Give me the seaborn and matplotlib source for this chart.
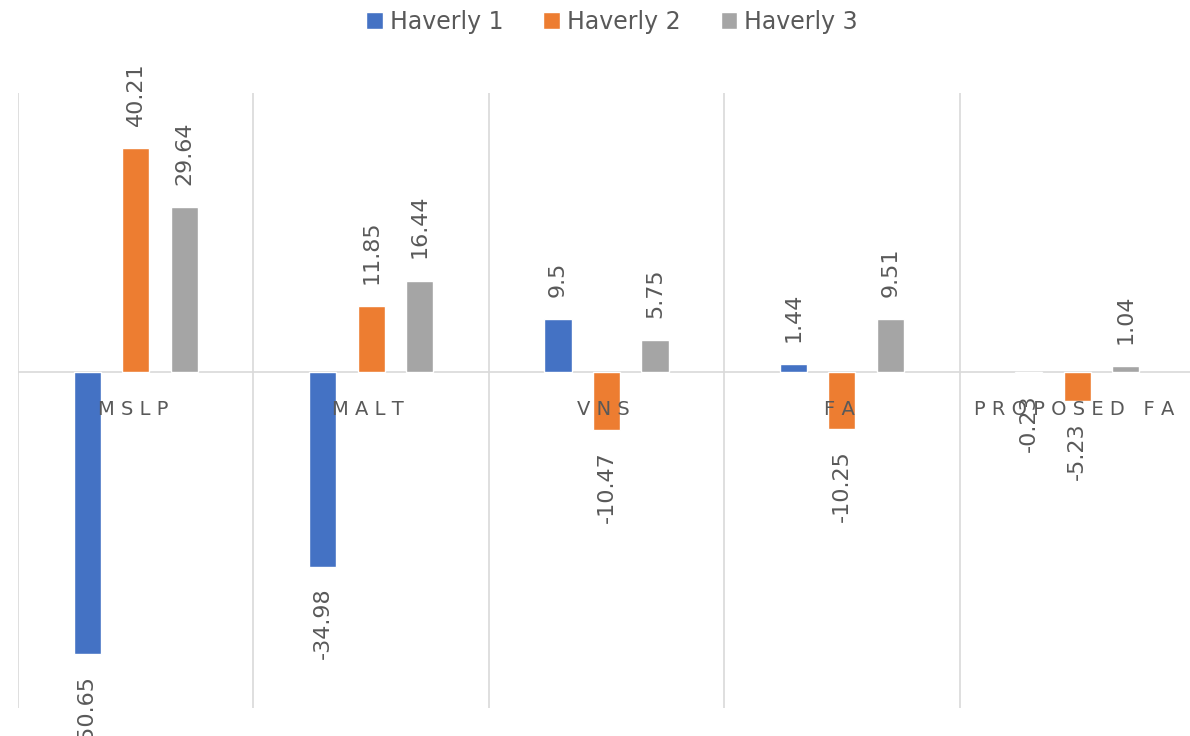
import matplotlib
matplotlib.use("Agg")
import matplotlib.pyplot as plt
import seaborn as sns
import pandas as pd

categories = ["MSLP", "MALT", "VNS", "FA", "PROPOSED FA"]
series_names = ["Haverly 1", "Haverly 2", "Haverly 3"]
haverly1 = [-50.65, -34.98, 9.5, 1.44, -0.23]
haverly2 = [40.21, 11.85, -10.47, -10.25, -5.23]
haverly3 = [29.64, 16.44, 5.75, 9.51, 1.04]
colors = ["#4472C4", "#ED7D31", "#A5A5A5"]

rows = []
for name, vals in zip(series_names, [haverly1, haverly2, haverly3]):
    for c, v in zip(categories, vals):
        rows.append({"cat": c, "series": name, "value": v})
df = pd.DataFrame(rows)

sns.set_theme(style="white")
plt.rcParams["font.family"] = ["DejaVu Sans"]

W, H = 1190, 736
fig = plt.figure(figsize=(W / 100, H / 100), dpi=100)
ax = fig.add_axes([18 / W, (H - 708) / H, 1177 / W, (708 - 93) / H])

sns.barplot(data=df, x="cat", y="value", hue="series", palette=colors,
            order=categories, hue_order=series_names, width=0.618, gap=0.44,
            saturation=1, errorbar=None, ax=ax, zorder=3)

ax.set_ylim(-60.3, 50.1)
ax.set_xlim(-0.5, 4.5)
for s in ax.spines.values():
    s.set_visible(False)
ax.set_xticks([])
ax.set_yticks([])
ax.set_xlabel("")
ax.set_ylabel("")

for xv in [-0.5, 0.5, 1.5, 2.5, 3.5, 4.5]:
    ax.axvline(xv, color="#D9D9D9", lw=1.2, zorder=1)
ax.axhline(0, color="#D9D9D9", lw=1.2, zorder=2)

# data labels
for cont in ax.containers:
    for bar in cont:
        v = bar.get_height()
        xc = bar.get_x() + bar.get_width() / 2
        lab = f"{v:g}"
        if v >= 0:
            ax.annotate(lab, xy=(xc, v), xytext=(0, 16), textcoords="offset points",
                        rotation=90, ha="center", va="bottom", fontsize=16,
                        color="#595959", zorder=5)
        else:
            ax.annotate(lab, xy=(xc, v), xytext=(0, -15), textcoords="offset points",
                        rotation=90, ha="center", va="top", fontsize=16,
                        color="#595959", zorder=5, annotation_clip=False)

# category labels
for i, c in enumerate(categories):
    spaced = " ".join(list(c))
    ax.annotate(spaced, xy=(i, 0), xytext=(-2, -27), textcoords="offset points",
                ha="center", va="center", fontsize=14, color="#595959", zorder=4)

sns.move_legend(ax, "center", bbox_to_anchor=(612 / W, 1 - 22 / H),
                bbox_transform=fig.transFigure, ncol=3, frameon=False, title=None,
                fontsize=17, handlelength=0.7, handleheight=0.7,
                handletextpad=0.3, columnspacing=1.7, labelcolor="#595959")

fig.savefig("out.png", dpi=100)
